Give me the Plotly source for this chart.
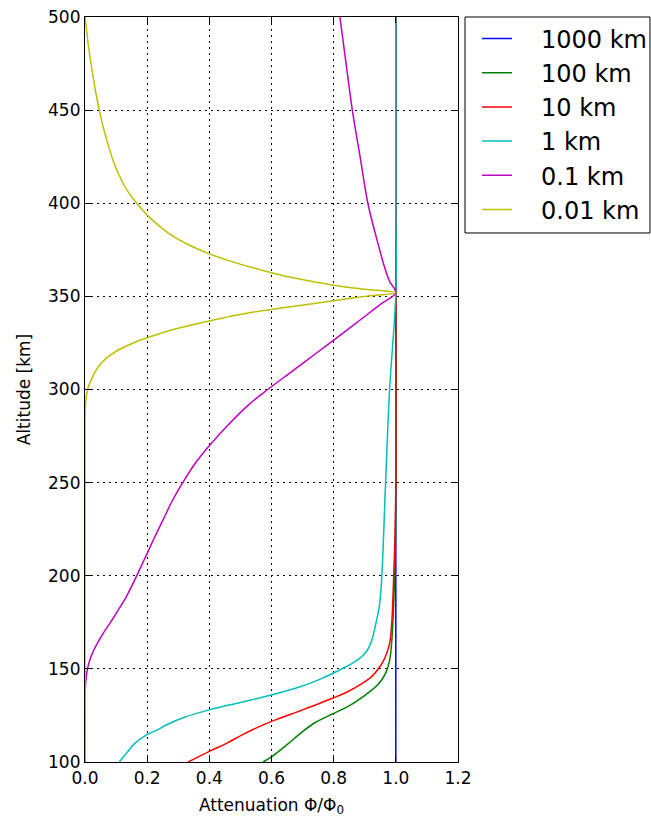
import plotly.graph_objects as go

labels = ["1000 km", "100 km", "10 km", "1 km", "0.1 km", "0.01 km"]
colors = ["#0000ff", "#008000", "#ff0000", "#00bfbf", "#bf00bf", "#bfbf00"]

alt_1000 = [100, 500]
att_1000 = [1.0, 1.0]

alt_100 = [100, 102.7, 106, 110, 115, 120.8, 125.7, 130, 135, 142, 148, 154.6, 165, 181, 210, 250, 500]
att_100 = [0.573, 0.60, 0.625, 0.655, 0.69, 0.737, 0.795, 0.848, 0.894, 0.945, 0.968, 0.98, 0.987, 0.992, 0.998, 1.0, 1.0]

alt_10 = [100, 105.7, 110, 115.4, 121.8, 128, 134.5, 138, 142.2, 146, 151, 156, 163.7, 175, 190, 220, 250, 500]
att_10 = [0.332, 0.40, 0.455, 0.515, 0.60, 0.70, 0.80, 0.848, 0.892, 0.923, 0.948, 0.965, 0.98, 0.987, 0.991, 0.997, 1.0, 1.0]

alt_1 = [100, 105, 110, 114.6, 117, 120, 124, 128, 132, 136, 140, 143, 145.5, 147.8, 150, 153, 156.5, 160, 165, 170, 176, 185, 200, 250, 300, 352, 400, 500]
att_1 = [0.11, 0.135, 0.16, 0.198, 0.23, 0.263, 0.32, 0.40, 0.50, 0.60, 0.685, 0.735, 0.77, 0.80, 0.826, 0.86, 0.89, 0.908, 0.922, 0.93, 0.938, 0.948, 0.955, 0.967, 0.98, 1.0, 1.0, 1.0]

alt_01 = [100, 135, 140, 145.6, 150, 155, 160, 165, 170, 175, 180, 187, 193, 199.5, 206, 212, 220, 231.7, 240, 249.6, 260, 269.3, 280, 292, 300, 310, 320, 330, 340, 346, 352, 358, 365, 380, 400, 425, 450, 475, 500]
att_01 = [0.0, 0.0, 0.001, 0.004, 0.008, 0.016, 0.028, 0.044, 0.062, 0.082, 0.101, 0.127, 0.146, 0.165, 0.183, 0.20, 0.222, 0.256, 0.28, 0.313, 0.353, 0.397, 0.455, 0.528, 0.588, 0.668, 0.748, 0.828, 0.906, 0.953, 1.0, 0.98, 0.965, 0.94, 0.91, 0.885, 0.86, 0.84, 0.82]

alt_001 = [100, 285, 290, 296, 301.5, 306, 312.2, 317, 321.2, 325, 327.8, 332.5, 337, 339, 341, 344, 347.7, 350, 352, 354, 356, 360, 363.8, 368, 372.7, 378, 384, 392, 399, 405, 412.5, 420, 430, 440, 450, 460, 470, 482, 490, 500]
att_001 = [0.0, 0.0, 0.001, 0.004, 0.011, 0.022, 0.043, 0.07, 0.107, 0.155, 0.20, 0.29, 0.405, 0.46, 0.52, 0.645, 0.80, 0.90, 1.0, 0.89, 0.80, 0.67, 0.575, 0.485, 0.402, 0.33, 0.268, 0.21, 0.171, 0.143, 0.117, 0.097, 0.077, 0.06, 0.046, 0.034, 0.024, 0.013, 0.007, 0.0]

series = [(alt_1000, att_1000), (alt_100, att_100), (alt_10, att_10),
          (alt_1, att_1), (alt_01, att_01), (alt_001, att_001)]

x_ticks = [0.0, 0.2, 0.4, 0.6, 0.8, 1.0, 1.2]
y_ticks = [100, 150, 200, 250, 300, 350, 400, 450, 500]

fig = go.Figure()
for (alt, att), lab, col in zip(series, labels, colors):
    fig.add_trace(go.Scatter(x=att, y=alt, mode="lines", name="\u2003" + lab,
                             line=dict(color=col, width=1.5, shape="spline", smoothing=1.0)))

axis_common = dict(showline=True, linecolor="black", linewidth=1.2, mirror="ticks",
                   ticks="inside", ticklen=6, tickcolor="black",
                   showgrid=True, gridcolor="black", griddash="1.5px,4.5px", gridwidth=1,
                   zeroline=False, tickfont=dict(size=17, color="black"), automargin=False)

fig.update_xaxes(range=[0, 1.2], tickvals=x_ticks, ticktext=[f"{v:.1f}" for v in x_ticks],
                 title=dict(text="Attenuation Φ/Φ<sub>0</sub>", font=dict(size=17, color="black"), standoff=12),
                 **axis_common)
fig.update_yaxes(range=[100, 500], tickvals=y_ticks, ticktext=[str(v) for v in y_ticks],
                 title=dict(text="Altitude [km]", font=dict(size=17, color="black"), standoff=13),
                 **axis_common)

# legend frame (matplotlib-style box around the legend)
fig.add_shape(type="rect", xref="paper", yref="paper",
              x0=1.0188, x1=1.5147, y0=0.7101, y1=1.0,
              line=dict(color="black", width=1), fillcolor="rgba(0,0,0,0)", layer="above")

fig.update_layout(
    width=651, height=819,
    margin=dict(l=85, r=193, t=17, b=57),
    plot_bgcolor="white", paper_bgcolor="white",
    font=dict(family="DejaVu Sans", color="black"),
    legend=dict(xref="container", yref="container", x=0.7327, y=0.980,
                xanchor="left", yanchor="top",
                borderwidth=0, bgcolor="rgba(0,0,0,0)",
                font=dict(size=24, color="black"), tracegroupgap=0),
    showlegend=True,
)

fig.write_html("out.html")
